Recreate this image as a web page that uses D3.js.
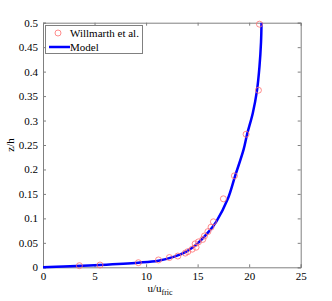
<!DOCTYPE html>
<html lang="en">
<head>
    <meta charset="UTF-8">
    <title>z/h profile</title>
    <style>
        body { margin: 0; background: #fff; }
        svg text { font-family: "Liberation Serif", "Times New Roman", "DejaVu Serif", serif; fill: #000; }
    </style>
</head>
<body>
    <div id="chart"></div>
    <script src="https://d3js.org/d3.v7.min.js"></script>
    <script>
        // measured points (Willmarth et al.)
        const obsU = [3.53, 5.53, 9.25, 11.2, 12.26, 13.08, 13.8, 14.05, 14.47, 14.85, 14.76, 15.08, 15.5, 15.66, 16.0, 16.3, 16.53, 17.5, 18.57, 19.7, 20.9, 21.0];
        const obsZ = [0.0033, 0.0047, 0.0094, 0.015, 0.020, 0.023, 0.029, 0.032, 0.037, 0.041, 0.048, 0.052, 0.057, 0.064, 0.073, 0.082, 0.093, 0.140, 0.187, 0.272, 0.362, 0.497];
        // model curve
        const modelU = [0, 2, 5.5, 9.25, 11.2, 12.75, 13.9, 15.0, 16.08, 16.8, 17.93, 18.64, 19.45, 19.8, 20.35, 20.75, 21.0, 21.15, 21.2];
        const modelZ = [0, 0.0015, 0.0047, 0.0094, 0.0135, 0.0217, 0.032, 0.049, 0.073, 0.093, 0.14, 0.187, 0.24, 0.272, 0.315, 0.36, 0.41, 0.46, 0.5];
        const xTicks = [0, 5, 10, 15, 20, 25];
        const yTicks = [0, 0.05, 0.1, 0.15, 0.2, 0.25, 0.3, 0.35, 0.4, 0.45, 0.5];

        const W = 332, H = 301;
        const mLeft = 43, mRight = 300.7, mTop = 22.7, mBottom = 267.3;
        const serif = "'Liberation Serif', 'Times New Roman', serif";

        const svg = d3.select("#chart").append("svg")
            .attr("width", W)
            .attr("height", H)
            .attr("font-family", serif);

        const x = d3.scaleLinear().domain([0, 25]).range([mLeft, mRight]);
        const y = d3.scaleLinear().domain([0, 0.5]).range([mBottom, mTop]);

        const axisColor = "#808080";
        const fmt = d => String(+d.toFixed(2));

        svg.append("g")
            .attr("transform", `translate(0,${mBottom})`)
            .call(d3.axisBottom(x).tickValues(xTicks).tickSize(-3).tickPadding(5).tickFormat(fmt));
        svg.append("g")
            .attr("transform", `translate(0,${mTop})`)
            .call(d3.axisTop(x).tickValues(xTicks).tickSize(-3).tickFormat(""));
        svg.append("g")
            .attr("transform", `translate(${mLeft},0)`)
            .call(d3.axisLeft(y).tickValues(yTicks).tickSize(-3).tickPadding(5).tickFormat(fmt));
        svg.append("g")
            .attr("transform", `translate(${mRight},0)`)
            .call(d3.axisRight(y).tickValues(yTicks).tickSize(-3).tickFormat(""));

        svg.selectAll("g").attr("font-family", serif);
        svg.selectAll(".domain").attr("stroke", axisColor);
        svg.selectAll(".tick line").attr("stroke", axisColor);
        svg.selectAll(".tick text")
            .attr("font-family", serif)
            .attr("font-size", 11)
            .attr("fill", "#000");

        // model line
        const line = d3.line()
            .x((d, i) => x(modelU[i]))
            .y((d, i) => y(modelZ[i]))
            .curve(d3.curveCatmullRom);
        svg.append("path")
            .attr("d", line(modelU))
            .attr("fill", "none")
            .attr("stroke", "#0000ff")
            .attr("stroke-width", 2.5);

        // observations
        svg.selectAll(".obs")
            .data(obsU)
            .enter()
            .append("circle")
            .attr("cx", d => x(d))
            .attr("cy", (d, i) => y(obsZ[i]))
            .attr("r", 3)
            .attr("fill", "none")
            .attr("stroke", "#ff7070")
            .attr("stroke-width", 0.8);

        // legend
        const lg = svg.append("g");
        lg.append("rect")
            .attr("x", 45.5).attr("y", 25.5)
            .attr("width", 97).attr("height", 28)
            .attr("fill", "#fff")
            .attr("stroke", axisColor);
        lg.append("circle")
            .attr("cx", 58).attr("cy", 33).attr("r", 3)
            .attr("fill", "none").attr("stroke", "#ff7070").attr("stroke-width", 0.8);
        lg.append("text")
            .attr("x", 70).attr("y", 37)
            .attr("font-size", 11)
            .text("Willmarth et al.");
        lg.append("line")
            .attr("x1", 49).attr("x2", 70)
            .attr("y1", 47).attr("y2", 47)
            .attr("stroke", "#0000ff").attr("stroke-width", 2.5);
        lg.append("text")
            .attr("x", 70).attr("y", 50.5)
            .attr("font-size", 11)
            .text("Model");

        // axis labels
        const xl = svg.append("text")
            .attr("x", 160).attr("y", 292)
            .attr("text-anchor", "middle")
            .attr("font-size", 11);
        xl.append("tspan").text("u/u");
        xl.append("tspan").attr("dy", 3).attr("font-size", 8).text("fric");

        svg.append("text")
            .attr("transform", "translate(14,145) rotate(-90)")
            .attr("text-anchor", "middle")
            .attr("font-size", 11)
            .text("z/h");
    </script>
</body>
</html>
